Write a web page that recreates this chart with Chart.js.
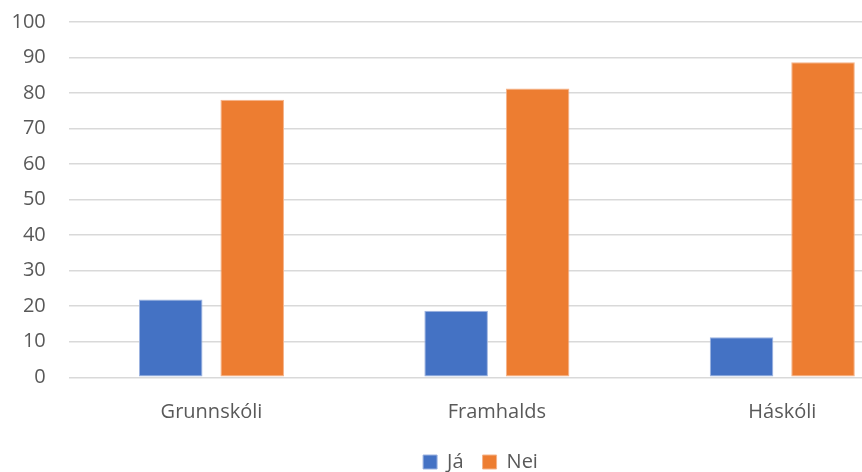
<!DOCTYPE html>
<html>
<head>
<meta charset="utf-8">
<script src="https://cdn.jsdelivr.net/npm/chart.js@4"></script>
<style>
  html, body { margin: 0; padding: 0; overflow: hidden; background: #fff; width: 862px; height: 472px; }
  #wrap { position: absolute; left: 0; top: 0; width: 954px; height: 472px; }
</style>
</head>
<body>
<div id="wrap"><canvas id="my-chart" width="954" height="472"></canvas></div>
<script>
const categories = ['Grunnskóli', 'Framhalds', 'Háskóli'];
const jaValues  = [21.9, 18.7, 11.3];
const neiValues = [78.1, 81.3, 88.7];
const yTicks = [0, 10, 20, 30, 40, 50, 60, 70, 80, 90, 100];

const textColor = '#595959';
const fontFamily = '"Open Sans", "Noto Sans", sans-serif';
const bottomPad = -10;
const legendShift = 18;

// nudge the legend a bit to the right, like the original
const shiftLegend = {
    id: 'shiftLegend',
    afterLayout(chart) {
        chart.legend.left += legendShift;
        chart.legend.right += legendShift;
    }
};

const ctx = document.getElementById('my-chart').getContext('2d');

const myChart = new Chart(ctx, {
    type: 'bar',
    data: {
        labels: categories,
        datasets: [{
            label: 'Já',
            data: jaValues,
            backgroundColor: '#4472C4',
            borderColor: '#9db3e0',
            borderWidth: 1,
            borderSkipped: false,
        }, {
            label: 'Nei',
            data: neiValues,
            backgroundColor: '#ED7D31',
            borderColor: '#f5b48a',
            borderWidth: 1,
            borderSkipped: false,
        }]
    },
    options: {
        responsive: false,
        animation: false,
        categoryPercentage: 0.571,
        barPercentage: 0.78,
        layout: { padding: { top: 22, right: 29, left: 0, bottom: bottomPad } },
        scales: {
            x: {
                grid: { display: false },
                border: { display: false },
                ticks: { color: textColor, font: { family: fontFamily, size: 20 }, padding: 15 },
                afterFit: (scale) => {
                    const lh = scale.chart.legend ? scale.chart.legend.height : 40;
                    scale.height = (472 - bottomPad) - lh - 377.3;
                    scale.paddingLeft = 0;
                    scale.paddingRight = 0;
                }
            },
            y: {
                min: 0,
                max: 100,
                afterBuildTicks: (scale) => { scale.ticks = yTicks.map(v => ({ value: v })); },
                grid: { color: '#d9d9d9', lineWidth: 1.5, drawTicks: false },
                border: { display: false },
                ticks: { color: textColor, font: { family: fontFamily, size: 20 }, padding: 23 },
                afterFit: (scale) => {
                    scale.width = 68.75;
                    scale.paddingTop = 0;
                    scale.paddingBottom = 0;
                }
            }
        },
        plugins: {
            legend: {
                position: 'bottom',
                labels: {
                    color: textColor,
                    font: { family: fontFamily, size: 20 },
                    boxWidth: 14,
                    boxHeight: 14,
                    padding: 19
                }
            },
            tooltip: { enabled: false }
        }
    },
    plugins: [shiftLegend]
});
</script>
</body>
</html>
